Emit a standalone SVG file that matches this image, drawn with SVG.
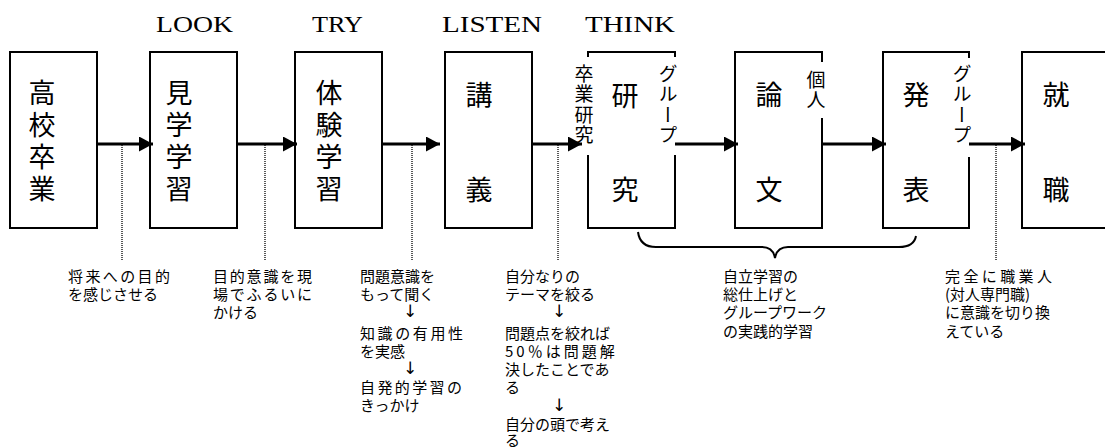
<svg xmlns="http://www.w3.org/2000/svg" width="1105" height="448" viewBox="0 0 1105 448">
<style>
.box{fill:none;stroke:#000;stroke-width:2}
.side{fill:none;stroke:#000;stroke-width:2}
.arr{fill:none;stroke:#000;stroke-width:3}
.dot{fill:none;stroke:#000;stroke-width:1.3;stroke-dasharray:1 1}
.brace{fill:none;stroke:#000;stroke-width:2}
.big{font-family:"Noto Sans CJK JP","Noto Sans",sans-serif;font-size:27px;fill:#000;text-anchor:middle}
.bigv{font-family:"Noto Sans CJK JP","Noto Sans",sans-serif;font-size:27px;fill:#000;writing-mode:vertical-rl;letter-spacing:5px}
.vert{font-family:"Noto Sans CJK JP","Noto Sans",sans-serif;font-size:19px;fill:#000;writing-mode:vertical-rl;letter-spacing:1.5px}
.en{font-family:"Liberation Serif",serif;font-size:24px;fill:#000}
.jp{font-family:"Noto Sans CJK JP","Noto Sans",sans-serif;font-size:15px;fill:#000}
.dn{font-family:"DejaVu Sans",sans-serif;font-size:17px;fill:#000;text-anchor:middle}
</style>
<defs>
<marker id="ah" markerUnits="userSpaceOnUse" markerWidth="15" markerHeight="16" refX="14" refY="7.5" orient="auto">
<path d="M0,0 L14,7.5 L0,15 z" fill="#000"/>
</marker>
</defs>

<g id="labels-top">
<text class="en" x="156" y="32" textLength="77" lengthAdjust="spacingAndGlyphs">LOOK</text>
<text class="en" x="312" y="32" textLength="51" lengthAdjust="spacingAndGlyphs">TRY</text>
<text class="en" x="442" y="32" textLength="100" lengthAdjust="spacingAndGlyphs">LISTEN</text>
<text class="en" x="585" y="32" textLength="90" lengthAdjust="spacingAndGlyphs">THINK</text>
</g>

<g id="n1">
<rect class="box" x="10" y="52" width="87" height="176"/>
<text class="bigv" x="42" y="79">高校卒業</text>
</g>
<g id="n2">
<rect class="box" x="150" y="52" width="87" height="176"/>
<text class="bigv" x="179" y="79">見学学習</text>
</g>
<g id="n3">
<rect class="box" x="295" y="52" width="87" height="176"/>
<text class="bigv" x="329" y="79">体験学習</text>
</g>
<g id="n4">
<rect class="box" x="445" y="52" width="87" height="176"/>
<text class="big" x="479" y="105">講</text>
<text class="big" x="479" y="200">義</text>
</g>
<g id="n5">
<path class="side" d="M588,57 V52 H675 V57 M588,155 V228 H675 V155"/>
<text class="big" x="625" y="106">研</text>
<text class="big" x="625" y="200">究</text>
<text class="vert" x="584" y="64">卒業研究</text>
<text class="vert" x="668" y="64">グループ</text>
</g>
<g id="n6">
<path class="side" d="M822,62 V52 H735 V228 H822 V118"/>
<text class="big" x="769" y="105">論</text>
<text class="big" x="769" y="200">文</text>
<text class="vert" x="816" y="70">個人</text>
</g>
<g id="n7">
<path class="side" d="M969,58 V52 H883 V228 H969 V157"/>
<text class="big" x="916" y="105">発</text>
<text class="big" x="916" y="200">表</text>
<text class="vert" x="962" y="64">グループ</text>
</g>
<g id="n8">
<rect class="box" x="1022" y="52" width="100" height="176"/>
<text class="big" x="1056" y="105">就</text>
<text class="big" x="1056" y="200">職</text>
</g>

<g id="connectors">
<line class="arr" x1="97" y1="144" x2="153" y2="144" marker-end="url(#ah)"/>
<line class="arr" x1="237" y1="144" x2="297" y2="144" marker-end="url(#ah)"/>
<line class="arr" x1="382" y1="144" x2="440" y2="144" marker-end="url(#ah)"/>
<line class="arr" x1="532" y1="144" x2="582" y2="144" marker-end="url(#ah)"/>
<line class="arr" x1="675" y1="144" x2="738" y2="144" marker-end="url(#ah)"/>
<line class="arr" x1="822" y1="144" x2="886" y2="144" marker-end="url(#ah)"/>
<line class="arr" x1="969" y1="144" x2="1025" y2="144" marker-end="url(#ah)"/>
<line class="dot" x1="122" y1="145" x2="122" y2="260"/>
<line class="dot" x1="265" y1="145" x2="265" y2="260"/>
<line class="dot" x1="412" y1="145" x2="412" y2="260"/>
<line class="dot" x1="558" y1="145" x2="558" y2="260"/>
<line class="dot" x1="996" y1="145" x2="996" y2="260"/>
<path class="brace" d="M638,232 Q640,247 656,247 L762,247 Q773,247 775,258 Q777,247 788,247 L899,247 Q914,247 916,236"/>
</g>

<g id="t1">
<text class="jp"><tspan x="68" y="282" letter-spacing="2.4">将来への目的</tspan><tspan x="68" y="300">を感じさせる</tspan></text>
</g>
<g id="t2">
<text class="jp"><tspan x="213" y="282" letter-spacing="1.8">目的意識を現</tspan><tspan x="213" y="300" letter-spacing="1.8">場でふるいに</tspan><tspan x="213" y="318">かける</tspan></text>
</g>
<g id="t3">
<text class="jp"><tspan x="360" y="282">問題意識を</tspan><tspan x="360" y="300">もって聞く</tspan></text>
<text class="dn" x="410" y="317">↓</text>
<text class="jp"><tspan x="360" y="339" letter-spacing="2.6">知識の有用性</tspan><tspan x="360" y="357">を実感</tspan></text>
<text class="dn" x="410" y="374">↓</text>
<text class="jp"><tspan x="360" y="393" letter-spacing="2.4">自発的学習の</tspan><tspan x="360" y="411">きっかけ</tspan></text>
</g>
<g id="t4">
<text class="jp"><tspan x="505" y="282">自分なりの</tspan><tspan x="505" y="300">テーマを絞る</tspan></text>
<text class="dn" x="559" y="317">↓</text>
<text class="jp"><tspan x="505" y="339">問題点を絞れば</tspan><tspan x="505" y="357" letter-spacing="3">50％は問題解</tspan><tspan x="505" y="375">決したことであ</tspan><tspan x="505" y="393">る</tspan></text>
<text class="dn" x="559" y="411">↓</text>
<text class="jp"><tspan x="505" y="430">自分の頭で考え</tspan><tspan x="505" y="446">る</tspan></text>
</g>
<g id="t5">
<text class="jp"><tspan x="723" y="282">自立学習の</tspan><tspan x="723" y="300">総仕上げと</tspan><tspan x="723" y="318">グループワーク</tspan><tspan x="723" y="337">の実践的学習</tspan></text>
</g>
<g id="t6">
<text class="jp"><tspan x="945" y="282" letter-spacing="3.4">完全に職業人</tspan><tspan x="945" y="300">(対人専門職)</tspan><tspan x="945" y="318">に意識を切り換</tspan><tspan x="945" y="337">えている</tspan></text>
</g>
</svg>
